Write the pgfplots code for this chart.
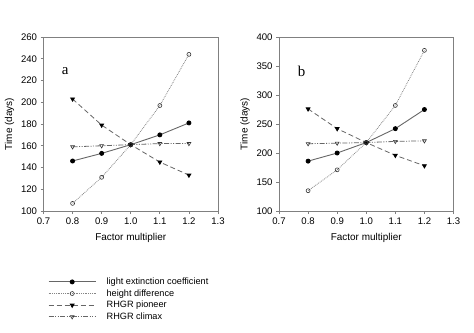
\documentclass[border=0pt]{standalone}
\usepackage{pgfplots}
\pgfplotsset{compat=1.18}
\usepackage{fontspec}
\setmainfont{Liberation Sans}
\newfontfamily\serifnum{Liberation Serif}
\definecolor{lgray}{gray}{0.4}
\definecolor{boxgray}{gray}{0.5}
\pgfplotsset{
  myax/.style={
    scale only axis, width=174.5bp, height=174bp,
    anchor=south west,
    xmin=0.7, xmax=1.3,
    xtick={0.7,0.8,...,1.3},
    xticklabels={0.7,0.8,0.9,1.0,1.1,1.2,1.3},
    tick align=outside, tick pos=left,
    major tick length=3bp,
    axis line style={boxgray, line width=0.7pt},
    every tick/.style={boxgray, line width=0.7pt},
    tick label style={font=\fontsize{9.6}{10}\selectfont},
    label style={font=\fontsize{10}{11}\selectfont},
    /pgf/number format/assume math mode=true,
    xlabel={Factor multiplier},
    ylabel={Time (days)},
    xlabel style={yshift=-2bp},
    clip=false,
  },
  s1/.style={lgray, solid, line width=0.9pt, mark=*, mark options={black, solid, fill=black}, mark size=2pt},
  s2/.style={lgray!80, densely dotted, line width=0.8pt, mark=o, mark options={black!80, solid, line width=0.6pt}, mark size=2pt},
  s3/.style={lgray, dash pattern=on 5pt off 3pt, line width=0.8pt, mark=triangle*, mark options={black, solid, fill=black, rotate=180}, mark size=2.2pt},
  s4/.style={lgray, dash pattern=on 5pt off 1.5pt on 1pt off 1.5pt on 1pt off 1.5pt, line width=0.8pt, mark=triangle, mark options={black!80, solid, rotate=180, line width=0.6pt}, mark size=2.2pt},
}
\begin{document}
\begin{tikzpicture}[x=1bp,y=1bp]
\useasboundingbox (0,0) rectangle (474,-332);
\begin{axis}[myax, at={(43.5bp,-211bp)},
  ymin=100, ymax=260, ytick={100,120,...,260},
  legend style={at={(axis description cs:0.026,-0.38)}, anchor=north west, draw=none, fill=none,
    font=\fontsize{9.2}{10}\selectfont, row sep=2.5bp, inner sep=0pt,
    nodes={inner sep=0.5bp}},
  legend cell align=left,
  legend image code/.code={\draw[mark repeat=2,mark phase=2,#1] plot coordinates {(0bp,0bp) (23.5bp,0bp) (47bp,0bp)};\path (57bp,0bp);},
]
\addplot[s1] coordinates {(0.8,146) (0.9,153) (1.0,161) (1.1,170) (1.2,181)};
\addlegendentry{light extinction coefficient}
\addplot[s2] coordinates {(0.8,107) (0.9,131) (1.0,161) (1.1,197) (1.2,244)};
\addlegendentry{height difference}
\addplot[s3] coordinates {(0.8,203) (0.9,179) (1.0,161) (1.1,145) (1.2,133)};
\addlegendentry{RHGR pioneer}
\addplot[s4] coordinates {(0.8,159) (0.9,160) (1.0,161) (1.1,162) (1.2,162)};
\addlegendentry{RHGR climax}
\node[font=\serifnum\fontsize{15}{15}\selectfont] at (axis description cs:0.125,0.805) {a};
\end{axis}
\begin{axis}[myax, at={(279bp,-211bp)},
  ymin=100, ymax=400, ytick={100,150,...,400},
]
\addplot[s1] coordinates {(0.8,186) (0.9,200) (1.0,218) (1.1,242) (1.2,275)};
\addplot[s2] coordinates {(0.8,135) (0.9,171) (1.0,218) (1.1,282) (1.2,377)};
\addplot[s3] coordinates {(0.8,276) (0.9,242) (1.0,218) (1.1,196) (1.2,178)};
\addplot[s4] coordinates {(0.8,216) (0.9,217) (1.0,218) (1.1,220) (1.2,221)};
\node[font=\serifnum\fontsize{15}{15}\selectfont] at (axis description cs:0.13,0.805) {b};
\end{axis}
\end{tikzpicture}
\end{document}
